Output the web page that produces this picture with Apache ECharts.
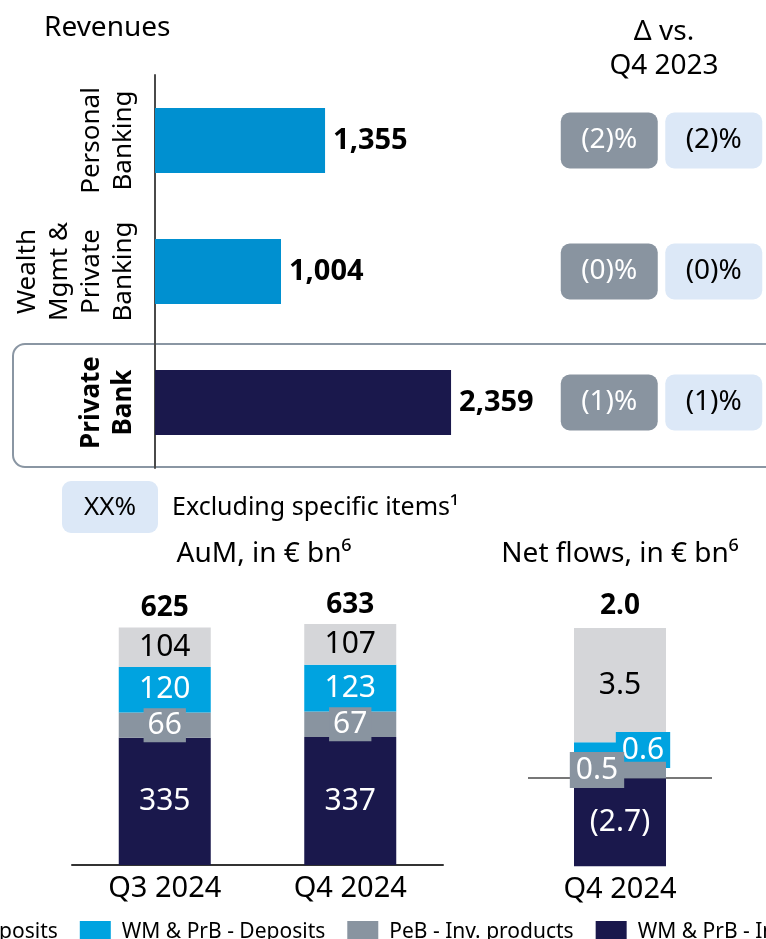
<!DOCTYPE html>
<html><head><meta charset="utf-8">
<script src="https://cdn.jsdelivr.net/npm/echarts@6/dist/echarts.min.js"></script>
<style>html,body{margin:0;padding:0;background:#fff}#c{width:766px;height:939px}</style>
</head><body><div id="c"></div>
<script>
// ---- data ----
const revenueCategories = ['Personal\nBanking', 'Wealth\nMgmt &\nPrivate\nBanking', 'Private\nBank'];
const revenueValues = [1355, 1004, 2359];
const deltaColumns = ['Reported', 'Excl. specific items'];
const deltaReported = ['(2)%', '(0)%', '(1)%'];
const deltaExSpecific = ['(2)%', '(0)%', '(1)%'];
const aumCategories = ['Q3 2024', 'Q4 2024'];
const aumPebDeposits = [104, 107];
const aumWmDeposits = [120, 123];
const aumPebInv = [66, 67];
const aumWmInv = [335, 337];
const aumTotals = ['625', '633'];
const flowCategories = ['Q4 2024'];
const flowPebDeposits = [3.5];
const flowWmDeposits = [0.6];
const flowPebInv = [0.5];
const flowWmInv = [-2.7];
const flowTotals = ['2.0'];
const seriesNames = ['PeB - Deposits', 'WM & PrB - Deposits', 'PeB - Inv. products', 'WM & PrB - Inv. products'];

// ---- styles ----
const FF = 'Noto Sans';
const C_LGRAY = '#D5D6D9', C_BLUE = '#00A3E0', C_GRAY = '#8994A0', C_NAVY = '#1A184C', C_TOPBLUE = '#0090D0', C_LBOX = '#DCE8F7';

const fmtFlow = v => v < 0 ? '(' + Math.abs(v).toFixed(1) + ')' : v.toFixed(1);

function stackSeries(gridIdx, vals, name, color, labelOpt, fmt) {
  return {
    type: 'bar', name, stack: 'g' + gridIdx, xAxisIndex: gridIdx, yAxisIndex: gridIdx,
    barWidth: 92, data: vals, itemStyle: { color },
    label: Object.assign({ show: true, position: 'inside', fontFamily: FF, fontSize: 30, color: '#fff',
      formatter: p => fmt(p.value) }, labelOpt)
  };
}

const chart = echarts.init(document.getElementById('c'));
const option = {
  animation: false,
  textStyle: { fontFamily: FF },
  grid: [
    { left: 155, top: 75, width: 502, height: 393 },
    { left: 557, top: 75, width: 210, height: 393 },
    { left: 72, top: 599, width: 371, height: 266 },
    { left: 528, top: 615, width: 184, height: 261 }
  ],
  xAxis: [
    { gridIndex: 0, type: 'value', min: 0, max: 4000, show: false },
    { gridIndex: 1, type: 'category', data: deltaColumns, show: false },
    { gridIndex: 2, type: 'category', data: aumCategories,
      axisLine: { show: true, lineStyle: { color: '#333', width: 2 } }, axisTick: { show: false },
      axisLabel: { fontFamily: FF, fontSize: 29, color: '#000', margin: 9 } },
    { gridIndex: 3, type: 'category', data: flowCategories,
      axisLine: { show: false, onZero: false }, axisTick: { show: false },
      axisLabel: { fontFamily: FF, fontSize: 29, color: '#000', margin: -1 } }
  ],
  yAxis: [
    { gridIndex: 0, type: 'category', data: revenueCategories, inverse: true,
      axisLine: { show: true, lineStyle: { color: '#4a4a4a', width: 2 } }, axisTick: { show: false },
      axisLabel: { interval: 0, rotate: 90, margin: 15, fontFamily: FF, fontSize: 26, lineHeight: 32, color: '#000',
        formatter: (v, i) => i === 2 ? v.split('\n').map(s => '{b|' + s + '}').join('\n') : v,
        rich: { b: { fontFamily: FF, fontWeight: 'bold', fontSize: 26, lineHeight: 32, color: '#000' } } } },
    { gridIndex: 1, type: 'category', data: revenueCategories, inverse: true, show: false },
    { gridIndex: 2, type: 'value', min: 0, max: 700, show: false },
    { gridIndex: 3, type: 'value', min: -3, max: 5, show: false }
  ],
  legend: {
    data: seriesNames, left: -131, top: 916, width: 1400, itemWidth: 31, itemHeight: 22, itemGap: 22,
    icon: 'rect', textStyle: { fontFamily: FF, fontSize: 21, color: '#000', padding: [0, 0, 0, 6] }
  },
  series: [
    { type: 'bar', name: 'Revenues', xAxisIndex: 0, yAxisIndex: 0, barWidth: 65,
      data: revenueValues.map((v, i) => ({ value: v, itemStyle: { color: i === 2 ? C_NAVY : C_TOPBLUE } })),
      label: { show: true, position: 'right', distance: 8, fontFamily: FF, fontSize: 29, fontWeight: 'bold', color: '#000',
        formatter: p => p.value.toLocaleString('en-US') } },
    { type: 'scatter', name: 'Δ reported', xAxisIndex: 1, yAxisIndex: 1, symbolSize: 1, itemStyle: { color: 'transparent', opacity: 1 },
      data: deltaReported.map((t, i) => ({ value: [deltaColumns[0], revenueCategories[i]] })),
      label: { show: true, position: 'inside', formatter: p => deltaReported[p.dataIndex], fontFamily: FF, fontSize: 28, color: '#fff',
        backgroundColor: C_GRAY, borderRadius: 9, width: 97, height: 56, lineHeight: 56, align: 'center', verticalAlign: 'middle' } },
    { type: 'scatter', name: 'Δ excl', xAxisIndex: 1, yAxisIndex: 1, symbolSize: 1, itemStyle: { color: 'transparent', opacity: 1 },
      data: deltaExSpecific.map((t, i) => ({ value: [deltaColumns[1], revenueCategories[i]] })),
      label: { show: true, position: 'inside', formatter: p => deltaExSpecific[p.dataIndex], fontFamily: FF, fontSize: 28, color: '#000',
        backgroundColor: C_LBOX, borderRadius: 9, width: 97, height: 56, lineHeight: 56, align: 'center', verticalAlign: 'middle' } },

    // AuM stack (bottom first)
    stackSeries(2, aumWmInv, seriesNames[3], C_NAVY, {}, v => v),
    stackSeries(2, aumPebInv, seriesNames[2], C_GRAY, { backgroundColor: C_GRAY, padding: [3, 4, 1, 4] }, v => v),
    stackSeries(2, aumWmDeposits, seriesNames[1], C_BLUE, {}, v => v),
    stackSeries(2, aumPebDeposits, seriesNames[0], C_LGRAY, { color: '#000' }, v => v),
    { type: 'bar', name: 'AuM total', stack: 'g2', xAxisIndex: 2, yAxisIndex: 2, barWidth: 92,
      data: aumTotals.map(() => 0), itemStyle: { color: 'transparent' },
      label: { show: true, position: 'top', distance: 5, fontFamily: FF, fontSize: 28, fontWeight: 'bold', color: '#000',
        formatter: p => aumTotals[p.dataIndex] } },

    // Net flows stack
    Object.assign(stackSeries(3, flowWmInv, seriesNames[3], C_NAVY, {}, fmtFlow), {
      z: 1,
      markLine: { silent: true, z: 1, symbol: 'none', label: { show: false }, data: [{ yAxis: 0 }],
        lineStyle: { color: '#777', width: 2, type: 'solid' } } }),
    Object.assign(stackSeries(3, flowPebInv, seriesNames[2], C_GRAY, { backgroundColor: C_GRAY, padding: [4, 6, 2, 6], offset: [-23, 0] }, fmtFlow), { z: 4 }),
    stackSeries(3, flowWmDeposits, seriesNames[1], C_BLUE, { backgroundColor: C_BLUE, padding: [4, 6, 2, 6], offset: [23, -2] }, fmtFlow),
    stackSeries(3, flowPebDeposits, seriesNames[0], C_LGRAY, { color: '#000' }, fmtFlow),
    { type: 'bar', name: 'Flow total', stack: 'g3', xAxisIndex: 3, yAxisIndex: 3, barWidth: 92,
      data: flowTotals.map(() => 0), itemStyle: { color: 'transparent' },
      label: { show: true, position: 'top', distance: 8, fontFamily: FF, fontSize: 28, fontWeight: 'bold', color: '#000',
        formatter: p => flowTotals[p.dataIndex] } }
  ],
  graphic: [
    { type: 'rect', z: 0, shape: { x: 13, y: 344, width: 800, height: 123, r: 12 },
      style: { fill: 'none', stroke: '#8A96A3', lineWidth: 2 } },
    { type: 'text', style: { x: 44, y: 28, text: 'Revenues', fontFamily: FF, fontSize: 28, fill: '#000', verticalAlign: 'middle' } },
    { type: 'text', style: { x: 664, y: 49, text: 'Δ vs.\nQ4 2023', fontFamily: FF, fontSize: 28, lineHeight: 34, fill: '#000', align: 'center', verticalAlign: 'middle' } },
    { type: 'rect', shape: { x: 62, y: 481, width: 96, height: 52, r: 9 }, style: { fill: C_LBOX } },
    { type: 'text', style: { x: 110, y: 508, text: 'XX%', fontFamily: FF, fontSize: 26, fill: '#000', align: 'center', verticalAlign: 'middle' } },
    { type: 'text', style: { x: 172, y: 508, text: 'Excluding specific items¹', fontFamily: FF, fontSize: 25, fill: '#000', verticalAlign: 'middle' } },
    { type: 'text', style: { x: 264, y: 554, text: 'AuM, in € bn⁶', fontFamily: FF, fontSize: 28, fill: '#000', align: 'center', verticalAlign: 'middle' } },
    { type: 'text', style: { x: 620, y: 554, text: 'Net flows, in € bn⁶', fontFamily: FF, fontSize: 28, fill: '#000', align: 'center', verticalAlign: 'middle' } }
  ]
};
chart.setOption(option);
</script>
</body></html>
